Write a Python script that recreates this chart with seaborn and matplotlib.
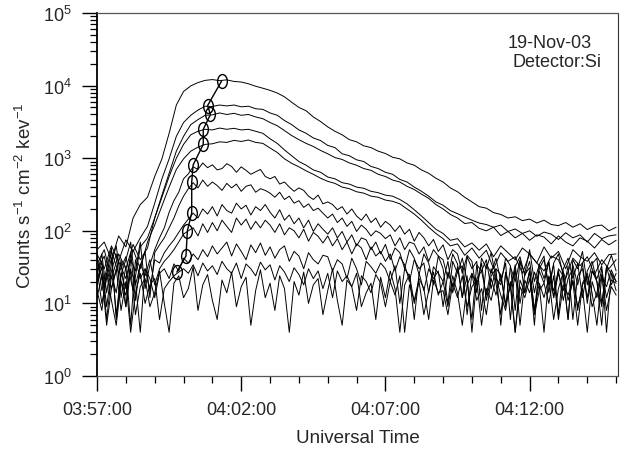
#!/usr/bin/env python
"""
Light curves of the 19-Nov-03 flare seen by the Si detector, one curve per
energy channel, with the time of each channel's peak marked by an ellipse.
"""

import numpy as np
import pandas as pd
import matplotlib
matplotlib.use("Agg")
import matplotlib.pyplot as plt
import matplotlib.dates as mdates
from matplotlib.path import Path
from matplotlib.transforms import Affine2D
from matplotlib.ticker import LogLocator, NullFormatter
import seaborn as sns

DAY = "2003-11-19"
START = "03:57:00"
END = "04:15:04"
STEP_UPPER = "15s"   # sampling of the five brightest channels
STEP_LOWER = "10s"   # sampling of the fainter channels

# counts s-1 cm-2 kev-1 from 03:57:00
# brightest channels, one value every 15 s
curve_a = [55, 70, 40, 85, 60, 150, 230, 290, 560, 980, 2200, 5400,
           8300, 9900, 11000, 11800, 12100, 11700, 12000, 11400, 11200, 10600, 9800, 9200,
           8600, 7900, 7000, 5900, 5000, 4500, 3700, 3200, 2700, 2350, 2100, 1800,
           1680, 1480, 1400, 1250, 1160, 1030, 980, 860, 800, 690, 620, 530,
           470, 390, 345, 290, 250, 215, 205, 178, 168, 150, 156, 138,
           145, 128, 140, 122, 118, 130, 112, 125, 104, 116, 120, 100,
           112]
curve_b = [48, 30, 62, 38, 75, 52, 80, 115, 240, 520, 980, 2000,
           3100, 3900, 4600, 5200, 5150, 5400, 5250, 5400, 5100, 5200, 4800, 4700,
           4200, 3900, 3300, 2900, 2450, 2200, 1900, 1750, 1500, 1400, 1150, 1080,
           950, 900, 770, 720, 640, 600, 510, 470, 400, 350, 300, 250,
           225, 190, 172, 155, 140, 128, 122, 112, 120, 98, 106, 92,
           100, 84, 96, 90, 76, 94, 80, 88, 70, 92, 78, 85,
           88]
curve_c = [35, 55, 22, 48, 30, 65, 40, 58, 150, 310, 620, 1250,
           2000, 2900, 3400, 3900, 3950, 4200, 4000, 4150, 3900, 4000, 3700, 3500,
           3100, 2800, 2400, 2050, 1800, 1600, 1450, 1280, 1150, 1020, 960, 860,
           800, 720, 680, 600, 560, 500, 470, 410, 370, 320, 280, 230,
           200, 168, 150, 126, 130, 108, 100, 112, 86, 98, 80, 92,
           74, 88, 82, 66, 85, 70, 62, 80, 72, 58, 76, 64,
           74]
curve_d = [40, 18, 52, 26, 44, 15, 60, 80, 150, 290, 560, 1000,
           1550, 2100, 2350, 2500, 2450, 2600, 2500, 2580, 2450, 2500, 2350, 2200,
           1850, 1600, 1300, 1080, 900, 800, 690, 640, 550, 520, 460, 440,
           400, 385, 350, 335, 310, 300, 270, 235, 195, 160, 130, 105,
           92, 74, 78, 60, 68, 54, 66, 44, 62, 50, 40, 58,
           48, 36, 60, 42, 52, 30, 55, 44, 38, 50, 34, 47,
           48]
curve_e = [28, 45, 16, 38, 22, 55, 30, 70, 120, 220, 400, 700,
           980, 1250, 1420, 1550, 1580, 1680, 1650, 1760, 1700, 1780, 1650, 1600,
           1380, 1200, 980, 850, 760, 670, 600, 530, 480, 450, 400, 380,
           345, 330, 300, 290, 265, 255, 235, 200, 170, 140, 112, 92,
           78, 62, 66, 46, 58, 42, 54, 30, 50, 38, 44, 26,
           48, 36, 28, 45, 40, 22, 42, 33, 44, 25, 40, 30,
           40]

# fainter channels, one value every 10 s
curve_f = [25, 48, 14, 36, 62, 20, 9, 40, 28, 70, 16, 34,
           55, 80, 110, 180, 260, 340, 520, 610, 760, 700, 860, 740,
           810, 690, 720, 840, 770, 640, 760, 680, 600, 650, 700, 560,
           520, 560, 440, 470, 400, 350, 390, 360, 300, 270, 310, 235,
           250, 230, 195, 215, 170, 200, 160, 140, 170, 130, 150, 112,
           135, 120, 98, 118, 90, 105, 72, 95, 80, 62, 76, 52,
           64, 40, 55, 48, 26, 46, 38, 14, 42, 30, 50, 22,
           18, 42, 33, 8, 38, 26, 55, 20, 34, 45, 14, 36,
           48, 24, 6, 40, 30, 52, 18, 35, 42, 10, 30, 46,
           28]
curve_g = [45, 15, 30, 58, 6, 25, 40, 70, 18, 33, 52, 12,
           50, 64, 80, 110, 150, 220, 300, 380, 460, 390, 500, 410,
           470, 420, 360, 450, 390, 440, 350, 410, 430, 340, 380, 360,
           330, 290, 340, 270, 300, 240, 260, 210, 235, 190, 205, 175,
           150, 170, 130, 150, 115, 135, 98, 120, 105, 85, 100, 92,
           78, 88, 62, 80, 55, 70, 66, 48, 60, 38, 55, 45,
           40, 22, 48, 35, 12, 44, 30, 38, 8, 35, 26, 42,
           20, 36, 6, 32, 44, 24, 38, 14, 30, 40, 18, 34,
           7, 30, 42, 22, 36, 12, 28, 38, 20, 5, 32, 26,
           15]
curve_h = [20, 38, 9, 28, 48, 12, 33, 5, 40, 22, 30, 15,
           40, 36, 50, 62, 75, 95, 120, 145, 175, 150, 200, 170,
           215, 160, 230, 190, 175, 240, 200, 225, 165, 215, 190, 230,
           180, 150, 195, 140, 165, 125, 150, 110, 140, 98, 125, 105,
           90, 110, 80, 98, 70, 88, 62, 80, 75, 55, 70, 48,
           65, 40, 58, 50, 30, 55, 42, 25, 48, 36, 18, 45,
           30, 10, 38, 26, 42, 20, 6, 34, 28, 40, 16, 30,
           25, 9, 32, 20, 40, 14, 28, 5, 35, 22, 38, 12,
           30, 24, 6, 34, 18, 36, 10, 28, 22, 33, 4, 26,
           20]
curve_i = [30, 10, 22, 42, 7, 26, 16, 50, 11, 35, 24, 40,
           18, 30, 38, 45, 55, 70, 90, 100, 110, 85, 125, 95,
           130, 100, 140, 115, 95, 150, 120, 145, 105, 135, 110, 140,
           120, 95, 125, 88, 110, 100, 80, 105, 72, 95, 84, 68,
           85, 62, 78, 55, 70, 48, 66, 58, 40, 60, 45, 52,
           38, 48, 28, 44, 34, 20, 40, 30, 36, 14, 32, 26,
           20, 38, 14, 28, 33, 7, 26, 18, 36, 11, 24, 30,
           5, 27, 16, 34, 10, 25, 31, 8, 28, 19, 37, 12,
           26, 15, 33, 6, 24, 30, 12, 28, 20, 9, 32, 18,
           26]
curve_j = [18, 32, 6, 24, 14, 40, 9, 28, 20, 4, 30, 22,
           12, 26, 30, 22, 35, 28, 42, 36, 48, 40, 55, 44,
           62, 48, 58, 70, 45, 66, 52, 40, 64, 50, 68, 46,
           60, 42, 55, 62, 38, 52, 45, 30, 50, 40, 35, 46,
           44, 28, 40, 35, 22, 42, 30, 18, 38, 32, 26, 36,
           30, 20, 33, 10, 30, 24, 6, 26, 15, 30, 22, 28,
           9, 27, 17, 32, 12, 24, 4, 22, 28, 13, 30, 19,
           7, 25, 16, 29, 5, 21, 14, 27, 18, 4, 24, 15,
           28, 11, 22, 30, 8, 19, 26, 14, 5, 23, 17, 29,
           20]
curve_k = [12, 24, 5, 16, 30, 8, 20, 4, 14, 26, 10, 18,
           22, 6, 16, 20, 24, 27, 30, 26, 34, 24, 36, 28,
           33, 25, 38, 30, 26, 36, 22, 35, 30, 24, 37, 29,
           34, 21, 33, 27, 20, 31, 25, 18, 30, 22, 28, 16,
           26, 12, 28, 20, 24, 17, 8, 24, 20, 14, 25, 19,
           9, 20, 13, 24, 4, 18, 11, 22, 16, 6, 21, 14,
           15, 7, 19, 12, 24, 9, 17, 21, 5, 16, 11, 23,
           13, 8, 20, 4, 17, 12, 22, 7, 15, 19, 10, 24,
           6, 18, 13, 21, 9, 16, 4, 20, 12, 25, 8, 17,
           13]
curve_l = [15, 8, 26, 11, 5, 20, 13, 30, 7, 17, 22, 9,
           14, 28, 10, 4, 19, 24, 12, 16, 32, 8, 18, 25,
           11, 6, 21, 14, 27, 9, 17, 23, 5, 15, 29, 12,
           19, 8, 24, 16, 4, 20, 13, 27, 10, 18, 22, 7,
           15, 30, 11, 5, 21, 17, 26, 9, 14, 19, 6, 23,
           12, 28, 16, 4, 18, 25, 10, 20, 7, 15, 27, 13,
           20, 9, 24, 14, 5, 18, 26, 11, 16, 7, 22, 13,
           25, 10, 17, 4, 21, 14, 28, 8, 19, 12, 23, 6,
           16, 27, 11, 20, 5, 18, 24, 9, 14, 30, 12, 21,
           19]

# peak marks (ellipses), joined by a line
peak_times = ["04:01:19", "04:00:50", "04:00:56", "04:00:41", "04:00:41", "04:00:20",
              "04:00:17", "04:00:17", "04:00:08", "04:00:05", "03:59:46"]
peak_counts = [11500, 5300, 4000, 2500, 1550, 810, 470, 176, 100, 45, 27]

xtick_labels = ["03:57:00", "04:02:00", "04:07:00", "04:12:00"]


def build_frame():
    # long table: one row per sample, channel number as unit
    groups = [(STEP_UPPER, [curve_a, curve_b, curve_c, curve_d, curve_e]),
              (STEP_LOWER, [curve_f, curve_g, curve_h, curve_i, curve_j, curve_k, curve_l])]
    parts = []
    n = 0
    for step, curves in groups:
        for vals in curves:
            times = pd.date_range(f"{DAY} {START}", periods=len(vals), freq=step)
            parts.append(pd.DataFrame({"time": times, "counts": vals, "channel": n}))
            n += 1
    return pd.concat(parts, ignore_index=True)


def to_time(labels):
    return pd.to_datetime([f"{DAY} {t}" for t in labels])


if __name__ == "__main__":
    sns.set_style("ticks")
    plt.rcParams["font.family"] = ["Liberation Sans", "DejaVu Sans"]
    plt.rcParams["mathtext.default"] = "regular"

    df = build_frame()

    fig = plt.figure(figsize=(6.35, 4.6), dpi=100)
    ax = fig.add_axes([0.1528, 0.1804, 0.8205, 0.7892])
    ax.set_yscale("log")

    # the light curves
    sns.lineplot(data=df, x="time", y="counts", units="channel", estimator=None,
                 color="black", linewidth=0.7, ax=ax)

    # ellipse markers at the peaks
    ellipse = Path.unit_circle().transformed(Affine2D().scale(0.7, 1.0))
    sns.lineplot(x=to_time(peak_times), y=peak_counts, sort=False, estimator=None,
                 color="black", linewidth=1.0, marker=ellipse, markersize=10,
                 markerfacecolor="none", markeredgecolor="black",
                 markeredgewidth=1.0, ax=ax)

    # axes
    ax.set_xlim(to_time([START])[0], to_time([END])[0])
    ax.set_ylim(1, 1e5)
    ax.set_xticks(to_time(xtick_labels))
    ax.set_xticklabels(xtick_labels)
    ax.xaxis.set_minor_locator(mdates.MinuteLocator())
    ax.yaxis.set_major_locator(LogLocator(base=10, numticks=10))
    ax.yaxis.set_minor_locator(LogLocator(base=10, subs=np.arange(2, 10), numticks=60))
    ax.yaxis.set_minor_formatter(NullFormatter())

    ax.tick_params(axis="both", which="major", direction="out", length=11,
                   width=1.0, labelsize=13, pad=7, color="black")
    ax.tick_params(axis="both", which="minor", direction="out", length=5,
                   width=0.9, color="black")

    ax.spines["left"].set_linewidth(1.3)
    ax.spines["left"].set_color("black")
    ax.spines["right"].set_linewidth(0.8)
    ax.spines["right"].set_color("#333333")
    for side in ["top", "bottom"]:
        ax.spines[side].set_linewidth(0.9)
        ax.spines[side].set_color("#555555")
        ax.spines[side].set_linestyle((0, (1.5, 1)))

    ax.set_xlabel("Universal Time", fontsize=13.5, labelpad=8)
    ax.set_ylabel("Counts s$^{-1}$ cm$^{-2}$ kev$^{-1}$", fontsize=13.5, labelpad=6)

    ax.text(0.789, 0.920, "19-Nov-03", transform=ax.transAxes, fontsize=13,
            ha="left", va="center")
    ax.text(0.798, 0.865, "Detector:Si", transform=ax.transAxes, fontsize=13,
            ha="left", va="center")

    fig.savefig("out.png", dpi=100)
